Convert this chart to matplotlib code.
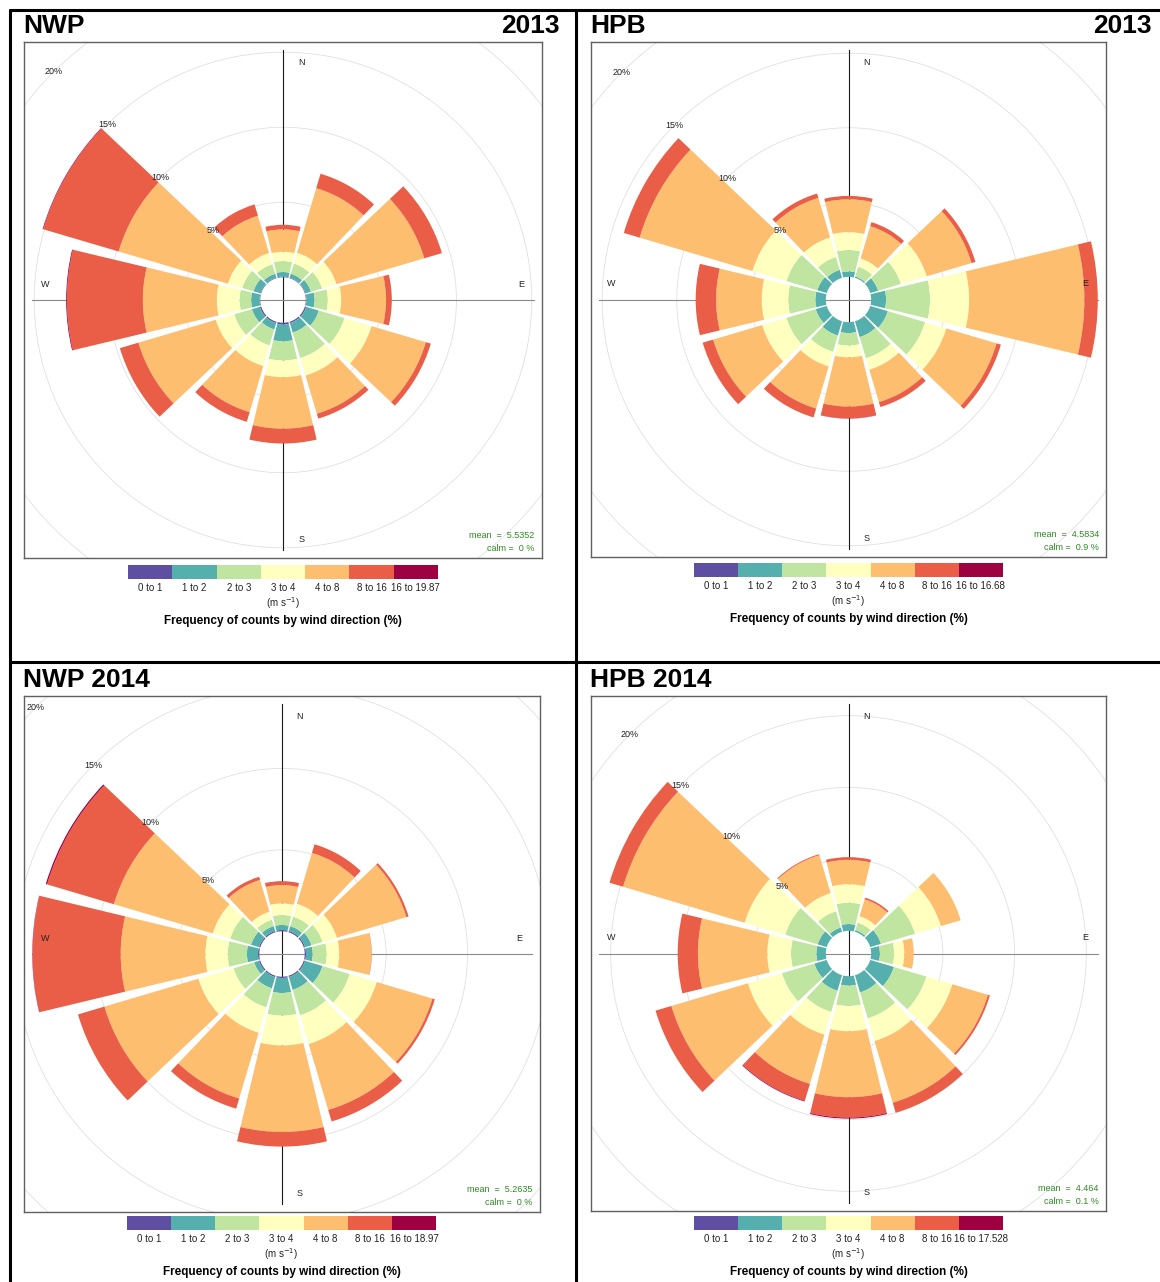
import numpy as np
import matplotlib
matplotlib.use('Agg')
import matplotlib.pyplot as plt
from matplotlib.patches import Wedge, Circle
from matplotlib.lines import Line2D

plt.rcParams['font.family'] = ['Liberation Sans', 'DejaVu Sans']

W, H = 1160, 1282

# wind direction sectors (degrees from north) and speed classes (m/s)
directions = [0, 30, 60, 90, 120, 150, 180, 210, 240, 270, 300, 330]
speed_bins = ['0 to 1', '1 to 2', '2 to 3', '3 to 4', '4 to 8', '8 to 16']
colours = ['#5E4FA2', '#55AFAD', '#BFE5A0', '#FFFFBF', '#FDBF6F', '#EA5D47', '#9E0142']

# frequency (%) by direction (rows) and speed class (columns)
nwp_2013 = [
    [0.04, 0.31, 0.73, 0.62, 1.49, 0.31, 0.00],
    [0.04, 0.27, 0.71, 0.75, 4.49, 1.00, 0.00],
    [0.04, 0.38, 0.77, 1.00, 6.08, 1.22, 0.00],
    [0.04, 0.54, 0.88, 0.89, 2.98, 0.38, 0.00],
    [0.09, 0.88, 1.77, 1.88, 3.76, 0.34, 0.00],
    [0.09, 0.66, 1.77, 1.22, 2.65, 0.34, 0.00],
    [0.13, 1.11, 1.28, 1.11, 3.43, 0.99, 0.00],
    [0.09, 0.44, 1.11, 1.44, 3.20, 0.67, 0.00],
    [0.09, 0.55, 1.22, 1.28, 5.36, 1.28, 0.00],
    [0.04, 0.56, 0.77, 1.51, 4.91, 5.04, 0.05],
    [0.04, 0.49, 0.78, 0.99, 7.57, 5.22, 0.04],
    [0.04, 0.27, 0.66, 0.78, 2.59, 0.79, 0.00],
]
hpb_2013 = [
    [0.00, 0.36, 1.44, 1.20, 2.20, 0.23, 0.00],
    [0.00, 0.09, 0.68, 0.57, 2.27, 0.28, 0.00],
    [0.00, 0.55, 1.59, 1.81, 3.14, 0.27, 0.00],
    [0.00, 1.00, 2.95, 2.62, 7.73, 0.90, 0.00],
    [0.00, 1.23, 2.61, 1.48, 3.52, 0.30, 0.00],
    [0.00, 1.11, 1.48, 0.80, 2.27, 0.34, 0.00],
    [0.00, 0.73, 0.84, 0.79, 3.30, 0.79, 0.02],
    [0.00, 1.00, 1.14, 1.02, 2.95, 0.62, 0.00],
    [0.00, 0.77, 2.05, 1.70, 3.43, 0.73, 0.00],
    [0.00, 0.70, 1.82, 1.78, 3.06, 1.37, 0.00],
    [0.00, 0.66, 2.16, 2.38, 7.89, 1.11, 0.00],
    [0.00, 0.55, 0.90, 1.37, 2.77, 0.30, 0.00],
]
nwp_2014 = [
    [0.08, 0.31, 0.61, 0.71, 1.13, 0.24, 0.00],
    [0.08, 0.31, 0.61, 0.82, 3.26, 0.55, 0.00],
    [0.08, 0.41, 0.71, 0.92, 4.45, 0.14, 0.00],
    [0.08, 0.41, 0.86, 0.77, 1.98, 0.02, 0.00],
    [0.08, 1.12, 1.74, 1.73, 3.57, 0.15, 0.00],
    [0.08, 0.82, 1.63, 1.84, 4.22, 0.74, 0.00],
    [0.08, 0.92, 1.39, 1.83, 5.31, 0.90, 0.00],
    [0.08, 0.72, 1.22, 1.63, 4.21, 0.65, 0.00],
    [0.08, 0.31, 1.32, 2.25, 6.02, 1.69, 0.00],
    [0.08, 0.68, 1.18, 1.37, 5.20, 5.41, 0.02],
    [0.08, 0.51, 1.33, 1.12, 6.33, 4.28, 0.08],
    [0.08, 0.31, 0.41, 0.51, 2.04, 0.20, 0.00],
]
hpb_2014 = [
    [0.00, 0.47, 1.49, 1.29, 1.70, 0.19, 0.00],
    [0.00, 0.12, 0.54, 0.47, 1.23, 0.12, 0.00],
    [0.00, 0.78, 2.48, 1.88, 1.44, 0.00, 0.00],
    [0.00, 0.61, 0.99, 0.71, 0.66, 0.00, 0.00],
    [0.00, 1.72, 2.36, 1.89, 2.59, 0.14, 0.00],
    [0.00, 1.25, 1.89, 1.65, 4.48, 0.73, 0.00],
    [0.00, 0.66, 1.42, 1.76, 4.60, 1.42, 0.07],
    [0.00, 1.13, 1.54, 1.65, 3.58, 1.23, 0.05],
    [0.00, 0.90, 2.36, 2.47, 5.57, 1.15, 0.00],
    [0.00, 0.66, 1.77, 1.65, 4.84, 1.41, 0.00],
    [0.00, 0.66, 2.36, 2.95, 8.84, 0.99, 0.00],
    [0.00, 0.31, 1.18, 1.32, 2.76, 0.07, 0.00],
]

titles_left = ['NWP', 'HPB', 'NWP 2014', 'HPB 2014']
titles_right = ['2013', '2013', '', '']
max_speeds = ['19.87', '16.68', '18.97', '17.528']
means = ['5.5352', '4.5834', '5.2635', '4.464']
calms = ['0', '0.9', '0', '0.1']

# pixel layout: rose box (x0, y0, x1, y1), colour key (x0, y0, x1, y1), title row y, right title x
layout = [
    ((24, 42, 542, 558), (128, 565, 438, 579), 26, 560),
    ((591, 42, 1106, 557), (694, 563, 1003, 577), 26, 1152),
    ((24, 696, 540, 1212), (127, 1216, 436, 1230), 680, None),
    ((591, 696, 1106, 1211), (694, 1216, 1003, 1230), 680, None),
]


def px_axes(fig, box):
    x0, y0, x1, y1 = box
    return fig.add_axes([x0 / W, 1 - y1 / H, (x1 - x0) / W, (y1 - y0) / H])


def draw_rose(ax, freqs, mean, calm):
    freqs = np.array(freqs)
    totals = freqs.sum(axis=1)
    fmax = totals.max()
    hole = 0.1 * fmax
    R = fmax + hole
    L = 1.033 * R
    ax.set_xlim(-L, L)
    ax.set_ylim(-L, L)
    ax.set_xticks([])
    ax.set_yticks([])
    for sp in ax.spines.values():
        sp.set_color('#606060')
        sp.set_linewidth(1.0)

    # grid circles every 5 %
    for k in range(1, 6):
        ax.add_patch(Circle((0, 0), hole + 5 * k, fill=False, ec='#e0e0e0', lw=0.6, zorder=1))
    ax.plot([0, 0], [-R, R], color='#1a1a1a', lw=0.8, zorder=2)
    ax.plot([-R, R], [0, 0], color='#8a8a8a', lw=0.8, zorder=2)

    # stacked sectors
    for d, row in zip(directions, freqs):
        cum = hole
        for f, c in zip(row, colours):
            if f > 0:
                ax.add_patch(Wedge((0, 0), cum + f, 90 - d - 13.5, 90 - d + 13.5,
                                   width=f, fc=c, ec='none', zorder=3))
            cum += f

    for k in range(1, 5):
        rr = (hole + 5 * k) / np.sqrt(2)
        ax.text(-rr, rr, f'{5 * k}%', ha='center', va='center', fontsize=6.5,
                color='#222222', zorder=5)

    ax.text(0.072 * R, 0.95 * R, 'N', ha='center', va='center', fontsize=6.5, color='#222222')
    ax.text(0.072 * R, -0.957 * R, 'S', ha='center', va='center', fontsize=6.5, color='#222222')
    ax.text(-0.95 * R, 0.064 * R, 'W', ha='center', va='center', fontsize=6.5, color='#222222')
    ax.text(0.95 * R, 0.064 * R, 'E', ha='center', va='center', fontsize=6.5, color='#222222')

    ax.text(0.986, 0.043, f'mean  =  {mean}', transform=ax.transAxes, ha='right',
            va='center', fontsize=6.5, color='#2E8B22')
    ax.text(0.986, 0.018, f'calm =  {calm} %', transform=ax.transAxes, ha='right',
            va='center', fontsize=6.5, color='#2E8B22')


def draw_key(fig, box, top_speed):
    ax = px_axes(fig, box)
    labels = speed_bins + [f'16 to {top_speed}']
    ax.bar(np.arange(7), np.ones(7), width=1.0, color=colours)
    ax.set_xlim(-0.5, 6.5)
    ax.set_ylim(0, 1)
    ax.axis('off')
    for i, lab in enumerate(labels):
        ax.text(i, -0.65, lab, ha='center', va='center', fontsize=7, color='#222222')
    cx = (box[0] + box[2]) / 2
    ybot = box[3]
    fig.text(cx / W, 1 - (ybot + 24) / H, '(m s$^{-1}$)', ha='center', va='center',
             fontsize=7, color='#222222')
    fig.text(cx / W, 1 - (ybot + 42) / H, 'Frequency of counts by wind direction (%)',
             ha='center', va='center', fontsize=8.5, fontweight='bold')


fig = plt.figure(figsize=(W / 100, H / 100), dpi=100)

panels = [nwp_2013, hpb_2013, nwp_2014, hpb_2014]
for i, freqs in enumerate(panels):
    rose_box, key_box, ty, rx = layout[i]
    ax = px_axes(fig, rose_box)
    draw_rose(ax, freqs, means[i], calms[i])
    draw_key(fig, key_box, max_speeds[i])
    fig.text((rose_box[0] - 1) / W, 1 - ty / H, titles_left[i], ha='left', va='center',
             fontsize=19, fontweight='bold')
    if titles_right[i]:
        fig.text(rx / W, 1 - ty / H, titles_right[i], ha='right', va='center',
                 fontsize=19, fontweight='bold')

# panel frame
frame = [((8.5, 10), (1160, 10)), ((10, 8.5), (10, 1282)),
         ((576, 10), (576, 1282)), ((10, 662), (1160, 662))]
for (xa, ya), (xb, yb) in frame:
    fig.add_artist(Line2D([xa / W, xb / W], [1 - ya / H, 1 - yb / H],
                          transform=fig.transFigure, color='black', lw=2.2,
                          solid_capstyle='butt'))

fig.savefig('out.png', dpi=100)
